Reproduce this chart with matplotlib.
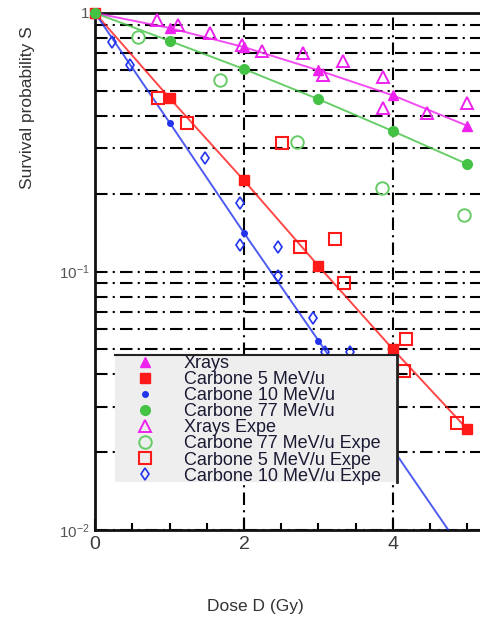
import numpy as np
import matplotlib
matplotlib.use("Agg")
import matplotlib.pyplot as plt
from matplotlib.lines import Line2D
from matplotlib.patches import Rectangle

plt.rcParams['font.family'] = ['Liberation Sans', 'DejaVu Sans']
plt.rcParams['mathtext.fontset'] = 'custom'
plt.rcParams['mathtext.rm'] = 'Liberation Sans'
plt.rcParams['mathtext.it'] = 'Liberation Sans'

# model curves (markers at integer doses)
dose_model = [0, 1, 2, 3, 4, 5]
s_xrays = [1.0, 0.875, 0.738, 0.60, 0.48, 0.366]
s_c5 = [1.0, 0.469, 0.225, 0.105, 0.050, 0.0245]
s_c10 = [1.0, 0.377, 0.141, 0.054, 0.0205, 0.0078]
s_c77 = [1.0, 0.78, 0.607, 0.464, 0.349, 0.26]

# experimental points
xr_exp_d = [0.83, 1.11, 1.54, 1.97, 2.24, 2.79, 3.06, 3.33, 3.87, 3.87, 4.46, 4.99]
xr_exp_s = [0.94, 0.90, 0.84, 0.75, 0.71, 0.70, 0.575, 0.65, 0.565, 0.43, 0.41, 0.45]
c77_exp_d = [0.58, 1.68, 2.71, 3.85, 4.95]
c77_exp_s = [0.81, 0.55, 0.316, 0.21, 0.166]
c5_exp_d = [0.85, 1.23, 2.51, 2.75, 3.22, 3.34, 4.17, 4.15, 4.86]
c5_exp_s = [0.469, 0.375, 0.313, 0.124, 0.134, 0.090, 0.055, 0.0413, 0.026]
c10_exp_d = [0.23, 0.47, 1.48, 1.94, 1.95, 2.46, 2.46, 2.93, 3.09, 3.42]
c10_exp_s = [0.77, 0.63, 0.274, 0.184, 0.127, 0.124, 0.096, 0.066, 0.049, 0.049]

MAG = '#ee22ee'
RED = '#ff1a1a'
BLUE = '#2233ee'
GRN = '#44c244'

W, H = 481, 619
fig = plt.figure(figsize=(W / 100, H / 100), dpi=100)
ax = fig.add_axes([95 / W, 1 - 530 / H, 386 / W, 517 / H])
ax.set_yscale('log')
ax.set_xlim(0, 386 / 74.5)
ax.set_ylim(0.01, 1)

dd = dict(linestyle=(0, (6, 2.5, 1, 2.5)), color='black', linewidth=1.5)
ax.grid(True, which='both', axis='y', **dd)
ax.grid(True, which='major', axis='x', **dd)
ax.set_axisbelow(True)


def model(s, color, marker, ms, label):
    d = np.array(dose_model)
    s = np.array(s)
    ax.plot(d, s, color=color, lw=1.4, alpha=0.8, zorder=3)
    keep = s >= 0.01
    ax.plot(d[keep], s[keep], linestyle='none', marker=marker, ms=ms,
            color=color, mec=color, clip_on=False, zorder=4, label=label)


model(s_xrays, MAG, '^', 7, 'Xrays')
model(s_c5, RED, 's', 7, 'Carbone 5 MeV/u')
model(s_c10, BLUE, 'o', 4, 'Carbone 10 MeV/u')
model(s_c77, GRN, 'o', 7, 'Carbone 77 MeV/u')

ax.plot(xr_exp_d, xr_exp_s, linestyle='none', marker='^', ms=9, mfc='none',
        mec=MAG, mew=1.4, label='Xrays Expe', zorder=4)
ax.plot(c77_exp_d, c77_exp_s, linestyle='none', marker='o', ms=9, mfc='none',
        mec='#66cc66', mew=1.4, label='Carbone 77 MeV/u Expe', zorder=4)
ax.plot(c5_exp_d, c5_exp_s, linestyle='none', marker='s', ms=9, mfc='none',
        mec=RED, mew=1.5, label='Carbone 5 MeV/u Expe', zorder=4)
ax.plot(c10_exp_d, c10_exp_s, linestyle='none', marker='d', ms=6, mfc='none',
        mec=BLUE, mew=1.2, label='Carbone 10 MeV/u Expe', zorder=4)

# axes styling
for side in ['left', 'bottom', 'top', 'right']:
    ax.spines[side].set_linewidth(2)
    ax.spines[side].set_color('#111111')

ax.set_xticks([0, 2, 4])
ax.set_xticks(np.arange(0.5, 5.5, 0.5), minor=True)
ax.tick_params(axis='x', which='major', direction='in', length=8, width=1.5,
               labelsize=14, labelcolor='#3a3a3a', pad=4)
ax.tick_params(axis='x', which='minor', direction='in', length=5, width=1.5)
ax.tick_params(axis='y', which='both', direction='in', length=0,
               labelsize=11, labelcolor='#555555', pad=4)
ax.set_yticks([0.01, 0.1, 1])
ax.set_yticklabels(['$10^{-2}$', '$10^{-1}$', '1'])
ax.tick_params(top=False, right=False)

fig.text(28 / W, 1 - 108 / H, 'Survival probability S', rotation=90,
         ha='center', va='center', fontsize=12.5, color='#333333')
fig.text(255 / W, 1 - 606 / H, 'Dose D (Gy)', ha='center', va='center',
         fontsize=12.5, color='#333333')

# legend box: grey background, black top and right edges
x0, x1, y0, y1 = 115 / W, 397 / W, 1 - 482 / H, 1 - 355 / H
ax.add_patch(Rectangle((x0, y0), x1 - x0, y1 - y0, transform=fig.transFigure,
                       facecolor='#eeeeee', edgecolor='none', zorder=9,
                       clip_on=False))
ax.add_line(Line2D([x0, x1], [y1, y1], transform=fig.transFigure,
                   color='#222222', lw=1.5, zorder=11, clip_on=False))
ax.add_line(Line2D([x1, x1], [y0, y1], transform=fig.transFigure,
                   color='#222222', lw=2, zorder=11, clip_on=False))

leg = ax.legend(loc='upper left', bbox_to_anchor=(20 / 386, 175 / 517),
                borderaxespad=0, fontsize=13, labelspacing=-0.05,
                handlelength=3.3, handletextpad=0.5, borderpad=0.0,
                frameon=False)
for t in leg.get_texts():
    t.set_color('#1a1a33')
leg.set_zorder(10)

fig.savefig('out.png', dpi=100)
